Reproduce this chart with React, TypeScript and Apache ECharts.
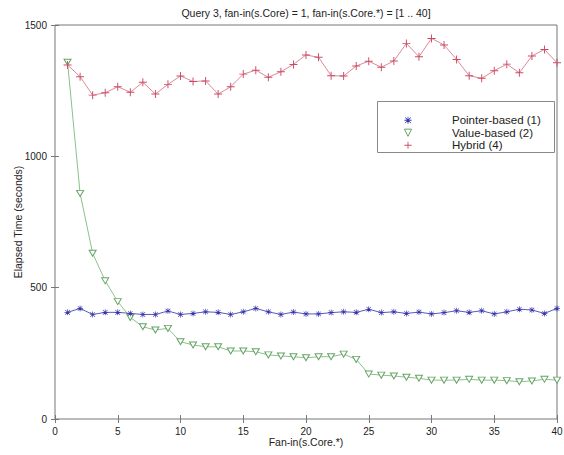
import React, { useEffect, useRef } from "react";
import * as echarts from "echarts";

// Fan-in values 1..40
const fanIn: number[] = Array.from({ length: 40 }, (_, i) => i + 1);

const pointerBased: number[] = [
  406, 421, 398, 406, 406, 402, 398, 398, 411, 398,
  402, 408, 406, 398, 408, 421, 408, 398, 407, 400,
  400, 405, 408, 406, 418, 405, 408, 402, 407, 400,
  405, 412, 406, 412, 400, 408, 418, 415, 402, 421,
];

const valueBased: number[] = [
  1358, 859, 631, 526, 447, 387, 351, 339, 345, 294,
  282, 275, 275, 259, 259, 256, 244, 240, 237, 233,
  237, 237, 247, 227, 171, 167, 164, 159, 155, 148,
  148, 148, 151, 148, 148, 146, 142, 145, 151, 148,
];

const hybrid: number[] = [
  1348, 1303, 1233, 1242, 1265, 1244, 1282, 1237, 1274, 1306,
  1285, 1287, 1237, 1265, 1313, 1328, 1301, 1322, 1350, 1386,
  1377, 1307, 1306, 1344, 1362, 1339, 1363, 1430, 1379, 1449,
  1424, 1369, 1307, 1297, 1326, 1351, 1318, 1382, 1407, 1356,
];

const seriesNames = ["Pointer-based (1)", "Value-based (2)", "Hybrid (4)"];
const titleText = "Query 3, fan-in(s.Core) = 1, fan-in(s.Core.*) = [1 .. 40]";
const xName = "Fan-in(s.Core.*)";
const yName = "Elapsed Time (seconds)";

// Marker glyphs in the classic plotting style
const PLUS =
  "path://M4.4,0 H5.6 V4.4 H10 V5.6 H5.6 V10 H4.4 V5.6 H0 V4.4 H4.4 Z";
const STAR =
  "path://M4.45,0 H5.55 V4.45 H10 V5.55 H5.55 V10 H4.45 V5.55 H0 V4.45 H4.45 Z " +
  "M1.5,0.8 L5,4.3 L8.5,0.8 L9.2,1.5 L5.7,5 L9.2,8.5 L8.5,9.2 L5,5.7 L1.5,9.2 L0.8,8.5 L4.3,5 L0.8,1.5 Z";
const TRI_DOWN = "path://M0,0 L10,0 L5,9 Z";

const FONT = "'Liberation Sans', Arial, Helvetica, sans-serif";

function zip(xs: number[], ys: number[]): number[][] {
  return xs.map((x, i) => [x, ys[i]]);
}

export default function App() {
  const ref = useRef<HTMLDivElement>(null);

  useEffect(() => {
    if (!ref.current) return;
    const chart = echarts.init(ref.current, undefined, { renderer: "svg" });

    const axisText = { color: "#222", fontSize: 10, fontFamily: FONT };
    const tick = { show: true, inside: true, length: 4, lineStyle: { color: "#777" } };

    chart.setOption({
      animation: false,
      backgroundColor: "#ffffff",
      textStyle: { fontFamily: FONT },
      grid: {
        left: 55,
        right: 7,
        top: 25,
        bottom: 36,
        outerBoundsMode: "none",
        containLabel: false,
        show: true,
        borderColor: "#777",
        borderWidth: 1,
        backgroundColor: "#ffffff",
      },
      xAxis: [
        {
          type: "value",
          min: 0,
          max: 40,
          interval: 5,
          position: "bottom",
          axisLine: { show: false },
          axisTick: tick,
          splitLine: { show: false },
          axisLabel: { ...axisText, margin: 7 },
          name: xName,
          nameLocation: "middle",
          nameMoveOverlap: false,
          nameGap: 17,
          nameTextStyle: { color: "#222", fontSize: 10.5, fontFamily: FONT },
        },
        {
          type: "value",
          min: 0,
          max: 40,
          interval: 5,
          position: "top",
          axisLine: { show: false },
          axisTick: tick,
          splitLine: { show: false },
          axisLabel: { show: false },
        },
      ],
      yAxis: [
        {
          type: "value",
          min: 0,
          max: 1500,
          interval: 500,
          position: "left",
          axisLine: { show: false },
          axisTick: tick,
          splitLine: { show: false },
          axisLabel: { ...axisText, margin: 8, formatter: (v: number) => String(v) },
          name: yName,
          nameLocation: "middle",
          nameMoveOverlap: false,
          nameGap: 32,
          nameTextStyle: { color: "#222", fontSize: 10.5, fontFamily: FONT },
        },
        {
          type: "value",
          min: 0,
          max: 1500,
          interval: 500,
          position: "right",
          axisLine: { show: false },
          axisTick: tick,
          splitLine: { show: false },
          axisLabel: { show: false },
        },
      ],
      legend: {
        orient: "vertical",
        left: 364,
        top: 109,
        z: 20,
        itemWidth: 78,
        itemHeight: 9,
        itemGap: 0,
        selectedMode: false,
        lineStyle: { width: 0, opacity: 0 },
        textStyle: { color: "#222", fontSize: 11.5, lineHeight: 12.5, fontFamily: FONT },
        data: [
          { name: seriesNames[0] },
          { name: seriesNames[1], itemStyle: { borderWidth: 1 } },
          { name: seriesNames[2] },
        ],
      },
      graphic: [
        {
          type: "text",
          x: 306,
          y: 13,
          style: {
            text: titleText,
            align: "center",
            verticalAlign: "middle",
            fontSize: 10.5,
            fontFamily: FONT,
            fill: "#222",
          },
        },
        {
          type: "rect",
          z: 10,
          shape: { x: 377.5, y: 101.5, width: 177, height: 51 },
          style: { fill: "#ffffff", stroke: "#888", lineWidth: 1 },
        },
      ],
      series: [
        {
          name: seriesNames[0],
          type: "line",
          data: zip(fanIn, pointerBased),
          symbol: STAR,
          symbolSize: 6,
          lineStyle: { color: "#5a5abd", width: 1 },
          itemStyle: { color: "#3434aa" },
          z: 3,
        },
        {
          name: seriesNames[1],
          type: "line",
          data: zip(fanIn, valueBased),
          symbol: TRI_DOWN,
          symbolSize: [7, 6],
          lineStyle: { color: "#8cc08c", width: 1 },
          itemStyle: { color: "#ffffff", borderColor: "#66a366", borderWidth: 1 },
          z: 2,
        },
        {
          name: seriesNames[2],
          type: "line",
          data: zip(fanIn, hybrid),
          symbol: PLUS,
          symbolSize: 8,
          lineStyle: { color: "#dc8a98", width: 1 },
          itemStyle: { color: "#cc4a64" },
          z: 3,
        },
      ],
    });

    return () => chart.dispose();
  }, []);

  return (
    <div
      ref={ref}
      style={{ position: "fixed", left: 0, top: 0, width: 564, height: 455 }}
    />
  );
}
